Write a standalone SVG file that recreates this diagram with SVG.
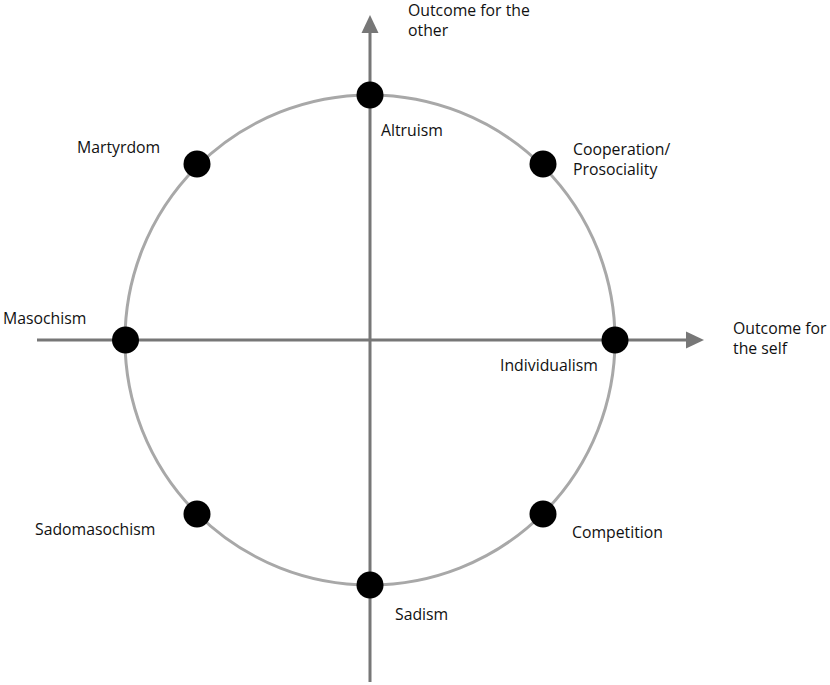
<svg xmlns="http://www.w3.org/2000/svg" width="830" height="685" viewBox="0 0 830 685">
<style>
.axis{stroke:#777;stroke-width:3;fill:none}
.ring{stroke:#a8a8a8;stroke-width:3;fill:none}
.dot{fill:#000}
.lbl{font-family:"Open Sans","Liberation Sans",sans-serif;font-size:15.8px;fill:#111}
.head{fill:#777}
</style>
<rect width="830" height="685" fill="#fff"/>
<g id="circle"><circle class="ring" cx="370" cy="340" r="245"/></g>
<g id="connectors">
<line class="axis" x1="370" y1="682" x2="370" y2="32"/>
<polygon class="head" points="370,15 361.5,33 378.5,33"/>
<line class="axis" x1="37" y1="340" x2="688" y2="340"/>
<polygon class="head" points="704,340 686,331.5 686,348.5"/>
</g>
<g id="axis-other"><text class="lbl" x="408" y="16">Outcome for the</text><text class="lbl" x="408" y="36">other</text></g>
<g id="axis-self"><text class="lbl" x="733" y="334">Outcome for</text><text class="lbl" x="733" y="354">the self</text></g>
<g id="altruism"><circle class="dot" cx="370" cy="95" r="13.5"/><text class="lbl" x="381" y="136">Altruism</text></g>
<g id="cooperation"><circle class="dot" cx="543" cy="164" r="13.5"/><text class="lbl" x="573" y="155">Cooperation/</text><text class="lbl" x="573" y="175">Prosociality</text></g>
<g id="individualism"><circle class="dot" cx="615" cy="340" r="13.5"/><text class="lbl" x="500" y="371">Individualism</text></g>
<g id="competition"><circle class="dot" cx="543" cy="514" r="13.5"/><text class="lbl" x="572" y="538">Competition</text></g>
<g id="sadism"><circle class="dot" cx="370" cy="585" r="13.5"/><text class="lbl" x="395" y="620">Sadism</text></g>
<g id="sadomasochism"><circle class="dot" cx="197" cy="514" r="13.5"/><text class="lbl" x="35" y="535">Sadomasochism</text></g>
<g id="masochism"><circle class="dot" cx="125.5" cy="340" r="13.5"/><text class="lbl" x="3" y="324">Masochism</text></g>
<g id="martyrdom"><circle class="dot" cx="197" cy="164" r="13.5"/><text class="lbl" x="77" y="153">Martyrdom</text></g>
</svg>
